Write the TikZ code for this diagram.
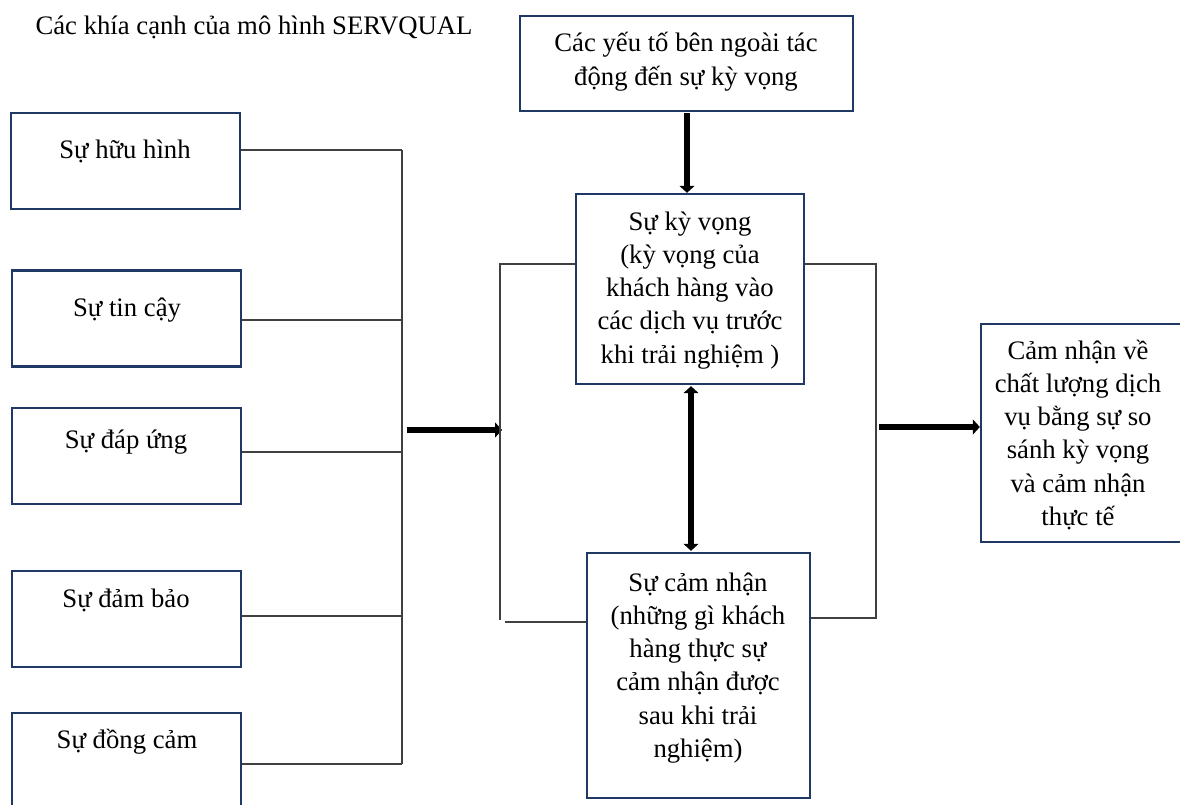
\documentclass[tikz,border=0pt]{standalone}
\usepackage{fontspec}
\setmainfont{Liberation Serif}
\usetikzlibrary{arrows.meta,calc}
\definecolor{navy}{HTML}{1F3864}
\definecolor{lgray}{HTML}{404040}
\newcommand{\mylines}[1]{\parbox[t]{400pt}{\centering #1}}
\begin{document}
\begin{tikzpicture}[x=1pt,y=-1pt,
  box/.style={draw=navy, line width=2.4pt, fill=white, inner sep=0pt, rectangle},
  txt/.style={font=\fontsize{26.7}{33.3}\selectfont, inner sep=0pt, anchor=base},
  conn/.style={draw=lgray, line width=1.3pt},
  bigarrow/.style={draw=black, line width=6pt, -{Triangle[length=7pt,width=15pt]}},
  bigdouble/.style={draw=black, line width=6.5pt, {Triangle[length=7pt,width=15pt]}-{Triangle[length=7pt,width=15pt]}},
]
\useasboundingbox (0,0) rectangle (1180,805);
\clip (0,0) rectangle (1180,805);
\fill[white] (0,0) rectangle (1180,805);

% left boxes
\node[box, minimum width=229pt, minimum height=96pt] (b1) at (125.5,161) {};
\node[box, minimum width=229pt, minimum height=96pt] (b2) at (126.5,318.5) {};
\node[box, minimum width=229pt, minimum height=96pt] (b3) at (126.5,456) {};
\node[box, minimum width=229pt, minimum height=96pt] (b4) at (126.5,619) {};
\node[box, minimum width=229pt, minimum height=96pt] (b5) at (126.5,761) {};

% centre and right boxes
\node[box, minimum width=333pt, minimum height=95pt] (ext) at (686.5,63.5) {};
\node[box, minimum width=228pt, minimum height=190pt] (kv) at (690,289) {};
\node[box, minimum width=223pt, minimum height=245pt] (cn) at (698.5,675.5) {};
\node[box, minimum width=209pt, minimum height=218pt] (res) at (1085.5,433) {};

% connectors from left boxes to bus
\coordinate (bus1) at (402,150);
\coordinate (bus2) at (402,320);
\coordinate (bus3) at (402,452);
\coordinate (bus4) at (402,616);
\coordinate (bus5) at (402,764);
\draw[conn] (b1.east |- bus1) -- (bus1);
\draw[conn] (b2.east |- bus2) -- (bus2);
\draw[conn] (b3.east |- bus3) -- (bus3);
\draw[conn] (b4.east |- bus4) -- (bus4);
\draw[conn] (b5.east |- bus5) -- (bus5);
\draw[conn] (bus1) -- (bus5);

% arrow from bus to middle bracket
\coordinate (a1s) at (407,430);
\coordinate (a1e) at (502,430);
\draw[bigarrow] (a1s) -- (a1e);

% middle-left bracket
\coordinate (mL1) at (500,264);
\coordinate (mL2) at (500,620);
\coordinate (mL3) at (505,622);
\draw[conn] (kv.west |- mL1) -- (mL1) -- (mL2);
\draw[conn] (mL3) -- (cn.west |- mL3);

% right bracket
\coordinate (mR1) at (876,264);
\coordinate (mR2) at (876,618);
\draw[conn] (kv.east |- mR1) -- (mR1) -- (mR2) -- (cn.east |- mR2);

% arrow to result
\coordinate (a2s) at (879,427);
\draw[bigarrow] (a2s) -- (res.west |- a2s);

% arrow from external factors to expectation
\draw[bigarrow] ($(ext.south)+(0.5,1)$) -- ($(ext.south |- kv.north)+(0.5,0)$);

% double arrow between expectation and perception
\draw[bigdouble] ($(kv.south)+(1,1)$) -- ($(kv.south |- cn.north)+(1,-1)$);

% texts
\node[txt] (title) at (254,35) {Các khía cạnh của mô hình SERVQUAL};
\node[txt] (t1) at (125,159) {Sự hữu hình};
\node[txt] (t2) at (127,316) {Sự tin cậy};
\node[txt] (t3) at (126,448) {Sự đáp ứng};
\node[txt] (t4) at (126,607) {Sự đảm bảo};
\node[txt] (t5) at (127,748) {Sự đồng cảm};
\node[txt] (te) at (686,52) {\mylines{Các yếu tố bên ngoài tác\\động đến sự kỳ vọng}};
\node[txt] (tkv) at (690,230) {\mylines{Sự kỳ vọng\\(kỳ vọng của\\khách hàng vào\\các dịch vụ trước\\khi trải nghiệm )}};
\node[txt] (tcn) at (698,591) {\mylines{Sự cảm nhận\\(những gì khách\\hàng thực sự\\cảm nhận được\\sau khi trải\\nghiệm)}};
\node[txt] (tres) at (1078,359) {\mylines{Cảm nhận về\\chất lượng dịch\\vụ bằng sự so\\sánh kỳ vọng\\và cảm nhận\\thực tế}};
\end{tikzpicture}
\end{document}
